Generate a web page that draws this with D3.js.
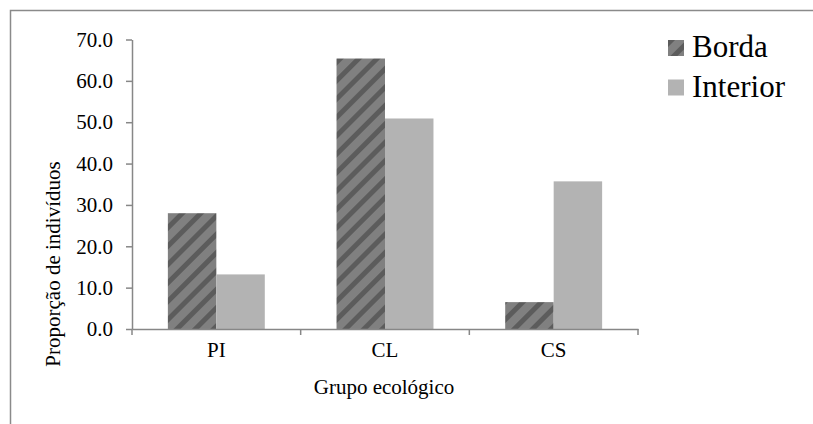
<!DOCTYPE html>
<meta charset="utf-8">
<style>
body { margin: 0; background: #fff; }
.axis path, .axis line { stroke: #878787; stroke-width: 1.5; }
</style>
<svg width="813" height="424"></svg>
<script src="https://d3js.org/d3.v7.min.js"></script>
<script>

var categories = ["PI", "CL", "CS"];
var series = ["Borda", "Interior"];
var borda = [28.0, 65.4, 6.5];
var interior = [13.2, 50.9, 35.7];
var yTicks = [0, 10, 20, 30, 40, 50, 60, 70];

var font = "'Liberation Serif', 'Times New Roman', serif";

var svg = d3.select("svg").attr("font-family", font);

var margin = {left: 132, right: 175, top: 39.5, bottom: 95};
var width = 813 - margin.left - margin.right,
    height = 424 - margin.top - margin.bottom;

// outer frame, runs off the right and bottom of the picture
svg.append("rect")
    .attr("x", 10.5).attr("y", 10.5)
    .attr("width", 900).attr("height", 500)
    .attr("fill", "none")
    .attr("stroke", "#8a8a8a")
    .attr("stroke-width", 1.5);

var defs = svg.append("defs");
var hatch = defs.append("pattern")
    .attr("id", "hatch")
    .attr("patternUnits", "userSpaceOnUse")
    .attr("width", 13).attr("height", 13)
    .attr("patternTransform", "rotate(45)");
hatch.append("rect").attr("width", 13).attr("height", 13).attr("fill", "#808080");
hatch.append("rect").attr("x", 0).attr("width", 5).attr("height", 13).attr("fill", "#5c5c5c");

var color = {Borda: "url(#hatch)", Interior: "#b3b3b3"};

var g = svg.append("g").attr("transform", "translate(" + margin.left + "," + margin.top + ")");

var x0 = d3.scaleBand().domain(categories).range([0, width]).padding(0);
var x1 = d3.scaleBand().domain(series).range([0, x0.bandwidth()]).paddingInner(0).paddingOuter(0.74);
var y = d3.scaleLinear().domain([0, 70]).range([height, 0]);

var rows = categories.map(function(c, i) {
  return {cat: c, values: [{key: "Borda", v: borda[i]}, {key: "Interior", v: interior[i]}]};
});

g.selectAll("g.group")
  .data(rows)
  .enter().append("g")
    .attr("class", "group")
    .attr("transform", function(d) { return "translate(" + x0(d.cat) + ",0)"; })
  .selectAll("rect")
  .data(function(d) { return d.values; })
  .enter().append("rect")
    .attr("x", function(d) { return x1(d.key); })
    .attr("y", function(d) { return y(d.v); })
    .attr("width", x1.bandwidth())
    .attr("height", function(d) { return height - y(d.v); })
    .attr("fill", function(d) { return color[d.key]; });

// y axis
var yAxis = g.append("g")
    .attr("class", "axis")
    .call(d3.axisLeft(y).tickValues(yTicks).tickSize(6).tickSizeOuter(0).tickPadding(13)
      .tickFormat(d3.format(".1f")));

// x axis: labels centred, ticks at the band edges
var xAxis = g.append("g")
    .attr("class", "axis")
    .attr("transform", "translate(0," + height + ")")
    .call(d3.axisBottom(x0).tickSize(0).tickSizeOuter(0).tickPadding(13));

var edges = categories.map(function(c) { return x0(c); }).concat([x0(categories[categories.length - 1]) + x0.bandwidth()]);
xAxis.selectAll("line.edge")
  .data(edges)
  .enter().append("line")
    .attr("class", "edge")
    .attr("x1", function(d) { return d; })
    .attr("x2", function(d) { return d; })
    .attr("y1", 0).attr("y2", 6);

g.selectAll(".axis")
    .attr("font-family", font)
    .attr("font-size", 21);
g.selectAll(".axis text").attr("fill", "#000");

// axis titles
svg.append("text")
    .attr("x", margin.left + width / 2 - 1)
    .attr("y", 394)
    .attr("text-anchor", "middle")
    .attr("font-size", 21)
    .text("Grupo ecológico");

svg.append("text")
    .attr("transform", "translate(60,264) rotate(-90)")
    .attr("text-anchor", "middle")
    .attr("font-size", 21)
    .text("Proporção de indivíduos");

// legend
var legend = svg.append("g").attr("transform", "translate(668,40)");
var li = legend.selectAll("g")
  .data(series)
  .enter().append("g")
    .attr("transform", function(d, i) { return "translate(0," + (i * 39.5) + ")"; });
li.append("rect")
    .attr("width", 16).attr("height", 16)
    .attr("fill", function(d) { return color[d]; });
li.append("text")
    .attr("x", 24)
    .attr("y", 17)
    .attr("font-size", 31)
    .text(function(d) { return d; });

</script>
